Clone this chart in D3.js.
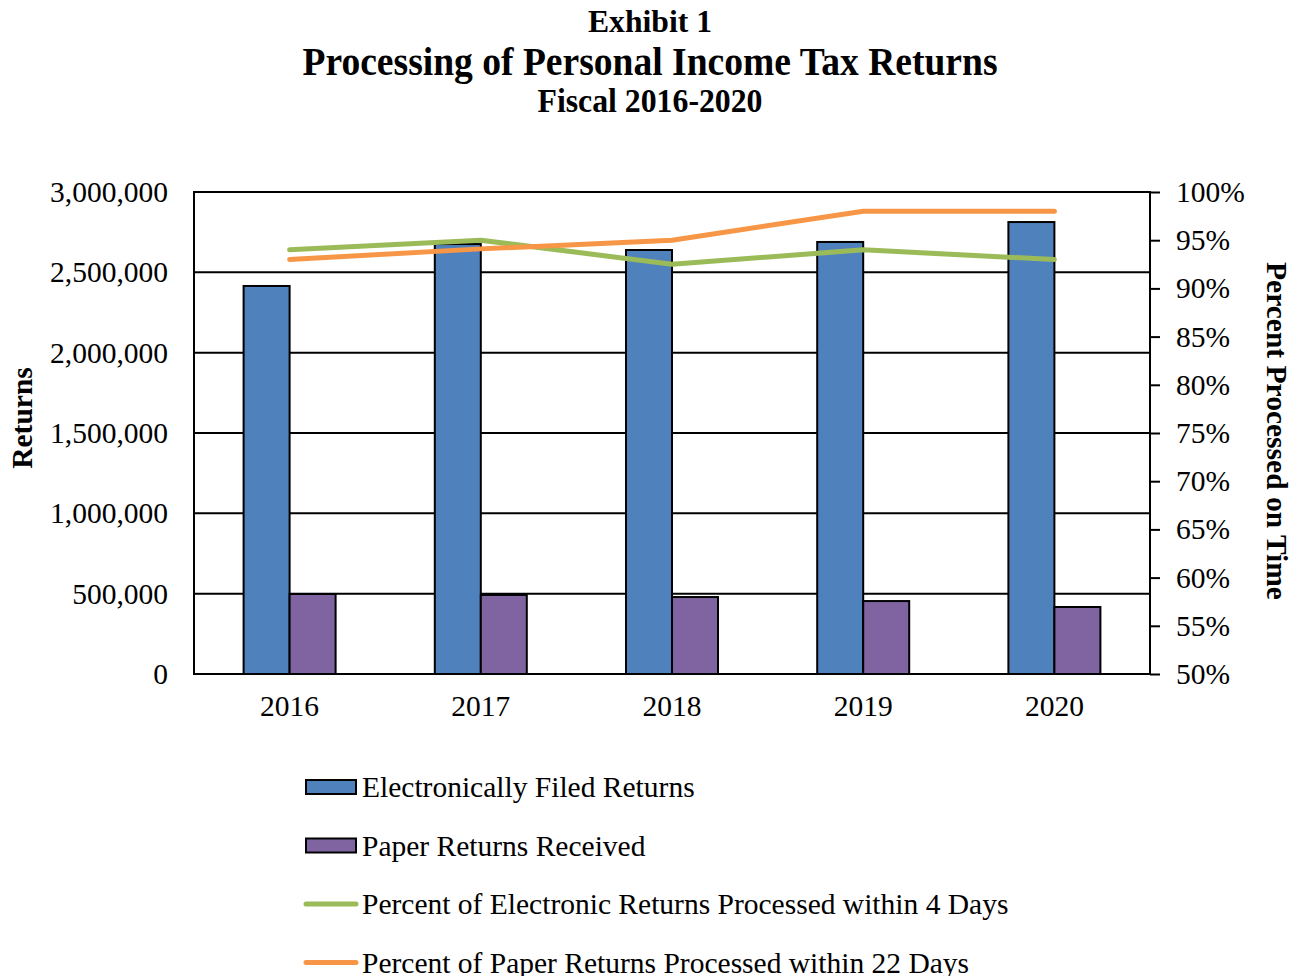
<!DOCTYPE html>
<html>
<head>
<meta charset="utf-8">
<script src="https://cdn.jsdelivr.net/npm/d3@7"></script>
<style>
  body { margin: 0; background: #fff; }
  text { font-family: "Liberation Serif", "Times New Roman", serif; fill: #000; }
</style>
</head>
<body>
<svg id="chart" width="1302" height="976"></svg>
<script>
var years = ['2016', '2017', '2018', '2019', '2020'];
var electronic = [2415000, 2676000, 2639000, 2689000, 2813000];
var paper = [498000, 492000, 479000, 454000, 417000];
var pctElectronic = [94.0, 95.0, 92.5, 94.0, 93.0];
var pctPaper = [93.0, 94.1, 95.0, 98.0, 98.0];
var leftTicks = [0, 500000, 1000000, 1500000, 2000000, 2500000, 3000000];
var rightTicks = [50, 55, 60, 65, 70, 75, 80, 85, 90, 95, 100];

var barSeries = [
  { name: 'Electronically Filed Returns', values: electronic, color: '#4f81bd' },
  { name: 'Paper Returns Received', values: paper, color: '#8064a2' }
];
var lineSeries = [
  { name: 'Percent of Electronic Returns Processed within 4 Days', values: pctElectronic, color: '#9bbb59' },
  { name: 'Percent of Paper Returns Processed within 22 Days', values: pctPaper, color: '#f79646' }
];

var fs = 29.5;
var svg = d3.select('#chart');
var plotLeft = 194, plotRight = 1150, plotTop = 192, plotBottom = 674;

var x = d3.scaleBand().domain(years).range([plotLeft, plotRight]);
var inner = d3.scaleBand().domain([0, 1]).range([0, 92]);
var y = d3.scaleLinear().domain([0, 3000000]).range([plotBottom, plotTop]);
var y2 = d3.scaleLinear().domain([50, 100]).range([plotBottom, plotTop]);

// titles
var titles = [
  { t: 'Exhibit 1', y: 32, size: 32, len: 124 },
  { t: 'Processing of Personal Income Tax Returns', y: 75, size: 40, len: 695 },
  { t: 'Fiscal 2016-2020', y: 112, size: 33, len: 225 }
];
svg.selectAll('text.title').data(titles).enter().append('text')
  .attr('class', 'title')
  .attr('x', 650).attr('y', function(d) { return d.y; })
  .attr('text-anchor', 'middle')
  .attr('font-weight', 'bold')
  .attr('font-size', function(d) { return d.size; })
  .attr('textLength', function(d) { return d.len; })
  .attr('lengthAdjust', 'spacingAndGlyphs')
  .text(function(d) { return d.t; });

// gridlines
svg.append('g').selectAll('line').data(leftTicks).enter().append('line')
  .attr('x1', plotLeft).attr('x2', plotRight)
  .attr('y1', function(d) { return y(d); }).attr('y2', function(d) { return y(d); })
  .attr('stroke', '#000').attr('stroke-width', 2);

// bars
barSeries.forEach(function(s, i) {
  svg.append('g').selectAll('rect').data(s.values).enter().append('rect')
    .attr('x', function(d, j) { return x(years[j]) + x.bandwidth() / 2 - 46 + inner(i); })
    .attr('y', function(d) { return y(d); })
    .attr('width', inner.bandwidth())
    .attr('height', function(d) { return plotBottom - y(d); })
    .attr('fill', s.color)
    .attr('stroke', '#000').attr('stroke-width', 2);
});

// plot frame
svg.append('rect')
  .attr('x', plotLeft).attr('y', plotTop)
  .attr('width', plotRight - plotLeft).attr('height', plotBottom - plotTop)
  .attr('fill', 'none').attr('stroke', '#000').attr('stroke-width', 2);

// lines
var line = d3.line()
  .x(function(d, j) { return x(years[j]) + x.bandwidth() / 2; })
  .y(function(d) { return y2(d); });
lineSeries.forEach(function(s) {
  svg.append('path').datum(s.values)
    .attr('d', line)
    .attr('fill', 'none')
    .attr('stroke', s.color)
    .attr('stroke-width', 5)
    .attr('stroke-linecap', 'round')
    .attr('stroke-linejoin', 'round');
});

// left axis
var yAxis = svg.append('g')
  .attr('transform', 'translate(' + plotLeft + ',0)')
  .call(d3.axisLeft(y).tickValues(leftTicks).tickSize(0).tickPadding(26).tickFormat(d3.format(',')));
yAxis.select('.domain').remove();
yAxis.selectAll('text').attr('font-size', fs).attr('font-family', 'Liberation Serif');

// right axis
var y2Axis = svg.append('g')
  .attr('transform', 'translate(' + plotRight + ',0)')
  .call(d3.axisRight(y2).tickValues(rightTicks).tickSize(10).tickPadding(16)
    .tickFormat(function(d) { return d + '%'; }));
y2Axis.select('.domain').attr('stroke-width', 2).attr('d', 'M0,' + plotTop + 'V' + plotBottom);
y2Axis.selectAll('line').attr('stroke-width', 2);
y2Axis.selectAll('text').attr('font-size', fs).attr('font-family', 'Liberation Serif');

// x axis labels
var xAxis = svg.append('g')
  .attr('transform', 'translate(0,' + plotBottom + ')')
  .call(d3.axisBottom(x).tickSize(0).tickPadding(21));
xAxis.select('.domain').remove();
xAxis.selectAll('text').attr('font-size', fs).attr('font-family', 'Liberation Serif');

// axis titles
svg.append('text')
  .attr('transform', 'translate(32,418) rotate(-90)')
  .attr('text-anchor', 'middle')
  .attr('font-weight', 'bold').attr('font-size', fs)
  .text('Returns');
svg.append('text')
  .attr('transform', 'translate(1267,431) rotate(90)')
  .attr('text-anchor', 'middle')
  .attr('font-weight', 'bold').attr('font-size', fs)
  .text('Percent Processed on Time');

// legend
var legendItems = barSeries.map(function(s) { return { name: s.name, color: s.color, type: 'bar' }; })
  .concat(lineSeries.map(function(s) { return { name: s.name, color: s.color, type: 'line' }; }));
var legend = svg.append('g').selectAll('g').data(legendItems).enter().append('g')
  .attr('transform', function(d, i) { return 'translate(0,' + (787 + i * 58.5) + ')'; });
legend.filter(function(d) { return d.type === 'bar'; }).append('rect')
  .attr('x', 306).attr('y', -7).attr('width', 50).attr('height', 14)
  .attr('fill', function(d) { return d.color; })
  .attr('stroke', '#000').attr('stroke-width', 2);
legend.filter(function(d) { return d.type === 'line'; }).append('line')
  .attr('x1', 306).attr('x2', 356).attr('y1', 0).attr('y2', 0)
  .attr('stroke', function(d) { return d.color; })
  .attr('stroke-width', 5).attr('stroke-linecap', 'round');
legend.append('text')
  .attr('x', 362).attr('y', 10)
  .attr('font-size', fs)
  .text(function(d) { return d.name; });
</script>
</body>
</html>
